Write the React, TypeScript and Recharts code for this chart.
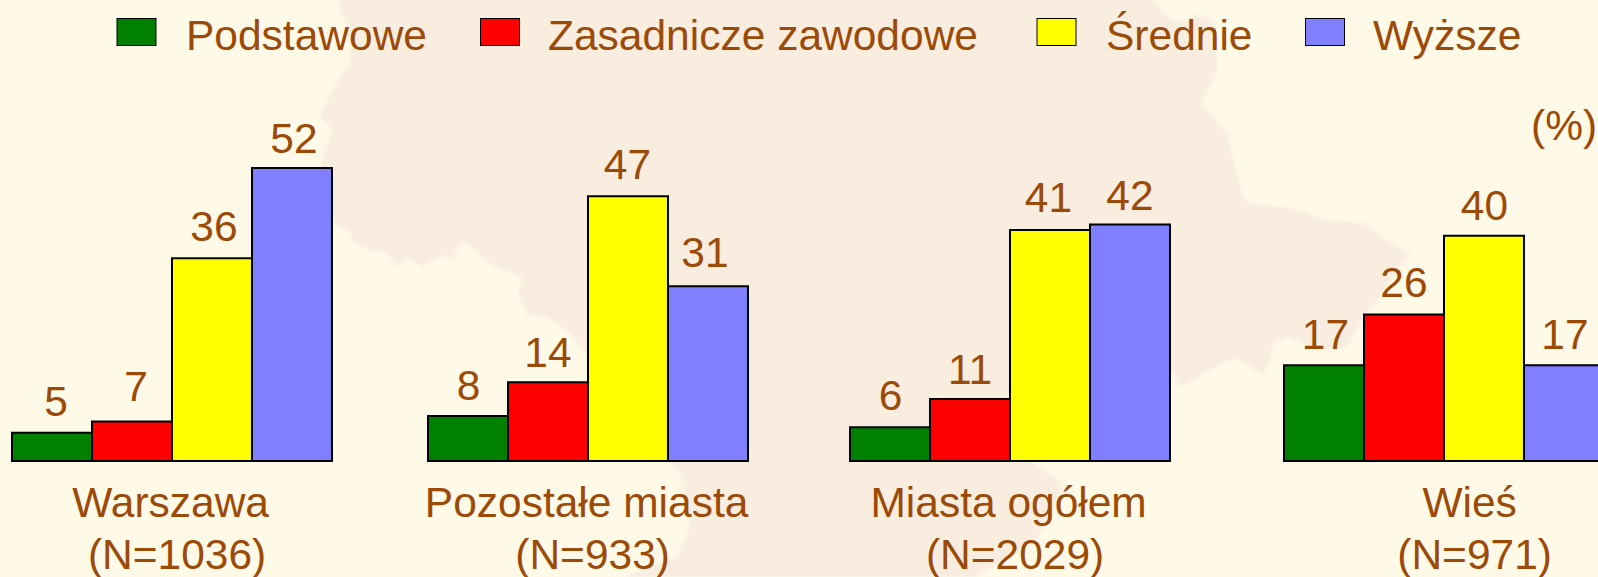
import React from "react";
import { BarChart, Bar, XAxis, YAxis, LabelList } from "recharts";

const categories = ["Warszawa", "Pozostałe miasta", "Miasta ogółem", "Wieś"];
const sampleLabels = ["(N=1036)", "(N=933)", "(N=2029)", "(N=971)"];
const podstawowe = [5, 8, 6, 17];
const zasadnicze = [7, 14, 11, 26];
const srednie = [36, 47, 41, 40];
const wyzsze = [52, 31, 42, 17];

const seriesNames = ["Podstawowe", "Zasadnicze zawodowe", "Średnie", "Wyższe"];
const seriesKeys = ["podstawowe", "zasadnicze", "srednie", "wyzsze"];
const seriesColors = ["#008000", "#FF0000", "#FFFF00", "#8080FF"];

const TEXT = "#9C4A07";
const FONT = "'Liberation Sans', Arial, sans-serif";
const FONT_SIZE = 42.5;

// layout of the panels
const groupLeft = [12, 427.6, 849.6, 1284];
const groupWidth = 321.2;
const sidePad = 60;
const labelDx = [
  [4, 4, 2, 2],
  [0.5, 0, -0.5, -3],
  [0.5, 0, -1.5, 0],
  [1.5, 0, 0.5, 1],
];
const labelGap = [
  [16.5, 20.5, 17, 15.5],
  [15.5, 15, 17.5, 19.5],
  [17.5, 15, 18.5, 14.5],
  [16, 17.5, 16, 16.5],
];
const nameDx = [-2, -2, -2, 25];
const sampleDx = [4.5, 4, 4.5, 30];

const legendSwatchX = [117, 480.5, 1037, 1305.5];
const legendTextX = [186, 548, 1106, 1373];

const mapOutline =
  "M337,0 L345,20 L352,45 L350,62 L335,85 L320,115 L332,130 L322,160 L320,205 L333,222 L350,233 L353,242 L370,250 L387,253 L397,267 L410,258 L422,267 L443,255 L453,260 L458,245 L467,243 L487,260 L490,265 L523,277 L518,293 L527,315 L547,317 L570,333 L620,400 L668,460 L680,473 L684,493 L690,527 L677,557 L622,577 L975,577 L1033,543 L1050,520 L1063,483 L1033,463 L1100,420 L1172,372 L1180,387 L1223,363 L1237,358 L1263,375 L1270,360 L1273,343 L1287,337 L1320,350 L1347,347 L1363,317 L1376,302 L1410,253 L1390,243 L1363,223 L1327,220 L1290,208 L1250,203 L1243,197 L1233,160 L1227,133 L1202,103 L1218,67 L1213,20 L1197,15 L1180,23 L1163,13 L1153,0 Z";

const columns: Record<string, number[]> = { podstawowe, zasadnicze, srednie, wyzsze };

function makeTick(i: number) {
  return function CategoryTick(props: any) {
    const cx = props.x;
    return (
      <g fill={TEXT} fontFamily={FONT} fontSize={FONT_SIZE} textAnchor="middle">
        <text x={cx + nameDx[i]} y={517}>{categories[i]}</text>
        <text x={cx + sampleDx[i]} y={569}>{sampleLabels[i]}</text>
      </g>
    );
  };
}

function Panel({ i }: { i: number }) {
  const row: Record<string, string | number> = { name: categories[i] };
  seriesKeys.forEach((k) => {
    row[k] = columns[k][i];
  });
  return (
    <div style={{ position: "absolute", left: groupLeft[i] - sidePad, top: 0 }}>
      <BarChart
        width={groupWidth + sidePad * 2}
        height={577}
        data={[row]}
        margin={{ top: 123, right: sidePad, bottom: 0, left: sidePad }}
        barCategoryGap={0}
        barGap={0}
      >
        <XAxis
          dataKey="name"
          height={116}
          axisLine={false}
          tickLine={false}
          interval={0}
          tick={makeTick(i)}
        />
        <YAxis hide domain={[0, 60]} />
        {seriesKeys.map((k, s) => (
          <Bar
            key={k}
            dataKey={k}
            fill={seriesColors[s]}
            stroke="#000000"
            strokeWidth={2}
            isAnimationActive={false}
          >
            <LabelList
              dataKey={k}
              position="top"
              offset={labelGap[i][s]}
              dx={labelDx[i][s]}
              fill={TEXT}
              fontFamily={FONT}
              fontSize={FONT_SIZE}
            />
          </Bar>
        ))}
      </BarChart>
    </div>
  );
}

export default function App() {
  return (
    <div
      style={{
        position: "absolute",
        left: 0,
        top: 0,
        width: 1598,
        height: 577,
        overflow: "hidden",
        background: "#FFF9E8",
      }}
    >
      <svg width={1598} height={577} style={{ position: "absolute", left: 0, top: 0, filter: "blur(1.5px)" }}>
        <path d={mapOutline} fill="#F8EDDF" />
      </svg>
      {categories.map((_, i) => (
        <Panel key={i} i={i} />
      ))}
      <svg width={1598} height={577} style={{ position: "absolute", left: 0, top: 0, pointerEvents: "none" }}>
        {seriesNames.map((name, s) => (
          <g key={name}>
            <rect
              x={legendSwatchX[s]}
              y={18.5}
              width={39}
              height={27}
              fill={seriesColors[s]}
              stroke="#000000"
              strokeWidth={1}
            />
            <text x={legendTextX[s]} y={50} fill={TEXT} fontFamily={FONT} fontSize={FONT_SIZE}>
              {name}
            </text>
          </g>
        ))}
        <text x={1531} y={140} fill={TEXT} fontFamily={FONT} fontSize={FONT_SIZE}>
          (%)
        </text>
      </svg>
    </div>
  );
}
